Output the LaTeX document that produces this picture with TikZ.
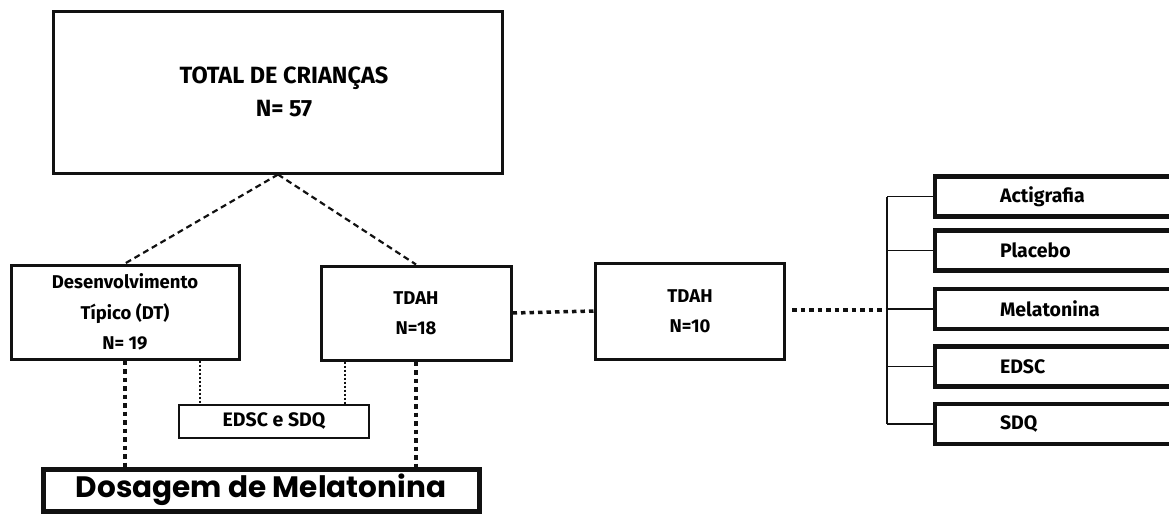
\documentclass[tikz,border=0pt]{standalone}
\usepackage{fontspec}
\setmainfont{Fira Sans}
\newfontfamily\dosefont{Poppins}
\usepackage{tikz}
\usetikzlibrary{positioning,calc}
\definecolor{inkblack}{HTML}{111111}
\tikzset{
  bigbox/.style={draw=inkblack, line width=3pt, fill=white, align=center, inner sep=0pt},
  groupbox/.style={draw=inkblack, line width=3pt, fill=white, align=center, inner sep=0pt, font=\fontsize{18.5}{30.5}\selectfont\bfseries},
  dosebox/.style={draw=inkblack, line width=5pt, fill=white, align=center, inner sep=0pt, font=\dosefont\fontsize{29.5}{34}\selectfont\bfseries},
  testbox/.style={draw=inkblack, line width=4.5pt, fill=white, minimum width=240pt, minimum height=40pt, text width=110pt, inner xsep=65pt, inner ysep=0pt, align=left, font=\fontsize{19.5}{22}\selectfont\bfseries},
  dashlink/.style={draw=inkblack, line width=2.2pt, dash pattern=on 6pt off 4pt},
  dotlink/.style={draw=inkblack, line width=3.5pt, dash pattern=on 4.5pt off 4pt},
  thindot/.style={draw=inkblack, line width=2pt, dash pattern=on 2pt off 2pt},
  bracket/.style={draw=inkblack, line width=1.8pt}
}
\begin{document}
\begin{tikzpicture}[x=1pt, y=-1pt]
  \useasboundingbox (0,0) rectangle (1169,515);

  % left part
  \node[bigbox, minimum width=449pt, minimum height=162pt, font=\fontsize{23.5}{33}\selectfont\bfseries] (total) at (278,92) {\hspace*{12pt}TOTAL DE CRIANÇAS\\\hspace*{12pt}N= 57};
  \node[groupbox, minimum width=228pt, minimum height=94pt] (dt) at (125,312) {Desenvolvimento\\Típico (DT)\\N= 19};
  \node[groupbox, minimum width=190pt, minimum height=94pt] (tdah) at (416,313) {TDAH\\N=18};
  \node[groupbox, minimum width=190pt, minimum height=33pt, line width=2.5pt, font=\fontsize{19.5}{22}\selectfont\bfseries] (scales) at (274,421.5) {EDSC e SDQ};
  \node[dosebox, minimum width=436pt, minimum height=42pt] (dose) at (261,490) {Dosagem de Melatonina};

  \draw[dashlink] (total.south) -- (dt.north);
  \draw[dashlink] (total.south) -- (tdah.north);

  \draw[dotlink] (dt.south) -- (dt.south |- dose.north);
  \draw[dotlink] (tdah.south) -- (tdah.south |- dose.north);

  \coordinate (lkleft) at ($(scales.north west)+(22,0)$);
  \coordinate (lkright) at ($(scales.north east)+(-25,0)$);
  \draw[thindot] (lkleft |- dt.south) -- (lkleft);
  \draw[thindot] (lkright |- tdah.south) -- (lkright);

  % right part
  \node[groupbox, minimum width=189pt, minimum height=96pt] (tdahten) at (690,311) {TDAH\\N=10};
  \draw[dotlink] (tdah.east) -- (tdahten.west);

  \node[testbox] (acti) at (1055,196.5) {Actigrafia};
  \node[testbox] (placebo) at (1055,250.5) {Placebo};
  \node[testbox] (mela) at (1055,309) {Melatonina};
  \node[testbox] (edsc) at (1055,366.5) {EDSC};
  \node[testbox] (sdq) at (1055,424) {SDQ};

  \coordinate (hub) at (887,310);
  \draw[dotlink, shorten <=6pt] (tdahten.east |- hub) -- (hub);
  \draw[bracket] (hub |- acti.west) -- (hub |- sdq.west);
  \foreach \t in {acti,placebo,mela,edsc,sdq}
    \draw[bracket] (hub |- \t.west) -- (\t.west);
\end{tikzpicture}
\end{document}
